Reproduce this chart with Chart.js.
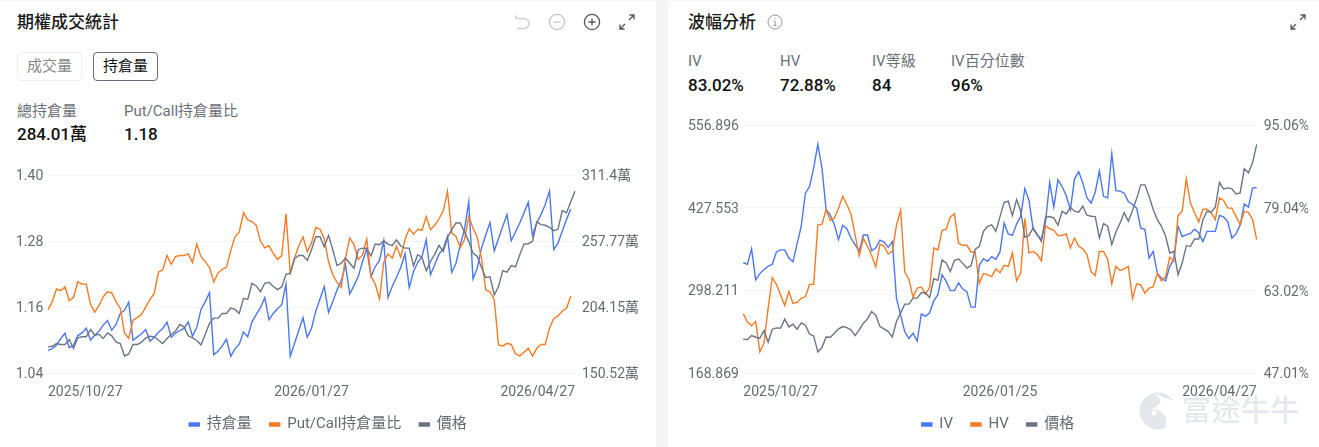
<!DOCTYPE html>
<html lang="zh-Hant">
<head>
<meta charset="utf-8">
<title>期權成交統計</title>
<script src="https://cdn.jsdelivr.net/npm/chart.js@4"></script>
<style>
  html, body { margin: 0; padding: 0; width: 1319px; height: 447px; overflow: hidden; background: #f5f5f6; }
  body { font-family: Roboto, "Noto Sans CJK TC", sans-serif; color: #222; position: relative; }
  .panel { position: absolute; top: 1px; height: 446px; background: #fff; }
  .abs { position: absolute; white-space: nowrap; }
  .title { font-size: 17px; font-weight: 500; line-height: 24px; color: #1a1a1a; }
  .btn { box-sizing: border-box; width: 65px; height: 29px; border-radius: 4px; font-size: 15px; line-height: 27px; text-align: center; }
  .btn.off { border: 1px solid #eeeeee; color: #888; }
  .btn.on { border: 1px solid #636c80; color: #111; }
  .label { font-size: 15px; line-height: 20px; color: #6b6f78; }
  .value { font-size: 17px; font-weight: 500; line-height: 22px; color: #111; }
  .chart-box { position: absolute; }
  svg { position: absolute; }
</style>
</head>
<body>
<div class="panel" style="left:0;width:656px"></div>
<div class="panel" style="left:668px;width:651px"></div>

<div class="abs title" style="left:17px;top:10px">期權成交統計</div>
<div class="abs btn off" style="left:17px;top:52px">成交量</div>
<div class="abs btn on" style="left:93px;top:52px">持倉量</div>
<div class="abs label" style="left:17px;top:101px">總持倉量</div>
<div class="abs value" style="left:17px;top:123px">284.01萬</div>
<div class="abs label" style="left:124px;top:101px">Put/Call持倉量比</div>
<div class="abs value" style="left:124px;top:123px">1.18</div>

<svg style="left:513px;top:13px" width="18" height="18" fill="none" stroke="#cfcfcf" stroke-width="1.4"><path d="M3 2.5v3h8a5 5 0 0 1 0 10H4"/></svg>
<svg style="left:548px;top:13px" width="18" height="18" fill="none" stroke="#c4c4c4" stroke-width="1.3"><circle cx="9" cy="9" r="7.6"/><path d="M5.5 9h7"/></svg>
<svg style="left:583px;top:13px" width="18" height="18" fill="none" stroke="#555" stroke-width="1.3"><circle cx="9" cy="9" r="7.6"/><path d="M5.5 9h7M9 5.5v7"/></svg>
<svg style="left:619px;top:14px" width="16" height="16" fill="none" stroke="#555" stroke-width="1.3"><path d="M1 15L6 10M1 10.5V15h4.5M15 1L10 6M15 5.5V1h-4.5"/></svg>

<div class="abs title" style="left:688px;top:10px">波幅分析</div>
<svg style="left:767px;top:14px" width="16" height="16" fill="none" stroke="#999" stroke-width="1"><circle cx="8" cy="8" r="7"/><path d="M8 7v4.5M6.5 11.5h3M7 7h1M8 4v1.2"/></svg>
<svg style="left:1290px;top:14px" width="16" height="16" fill="none" stroke="#555" stroke-width="1.3"><path d="M1 15L6 10M1 10.5V15h4.5M15 1L10 6M15 5.5V1h-4.5"/></svg>
<div class="abs label" style="left:688px;top:51px">IV</div>
<div class="abs value" style="left:688px;top:74px">83.02%</div>
<div class="abs label" style="left:780px;top:51px">HV</div>
<div class="abs value" style="left:780px;top:74px">72.88%</div>
<div class="abs label" style="left:872px;top:51px">IV等級</div>
<div class="abs value" style="left:872px;top:74px">84</div>
<div class="abs label" style="left:951px;top:51px">IV百分位數</div>
<div class="abs value" style="left:951px;top:74px">96%</div>

<div class="chart-box" style="left:16px;top:160px;width:624px;height:282px"><canvas id="oiChart"></canvas></div>
<div class="chart-box" style="left:688px;top:110px;width:620px;height:332px"><canvas id="volChart"></canvas></div>

<svg style="left:1139px;top:392px" width="38" height="38"><circle cx="19" cy="19" r="18.5" fill="#e3e7eb"/><path d="M14 1C26 8 22 14 12 17C24 18 30 24 26 37L37 30L38 10Z" fill="#fff"/><circle cx="15" cy="21" r="2.6" fill="#fff"/></svg>
<div class="abs" style="left:1182px;top:392px;font-size:29px;line-height:38px;font-weight:500;color:#e5e9ed;letter-spacing:0.5px">富途牛牛</div>

<script>
// left chart
const oiLabels = ['2025/10/27', '2026/01/27', '2026/04/27'];
const volLabels = ['2025/10/27', '2026/01/25', '2026/04/27'];
const labelIndex = [0, 62, 124];
const pointCount = 125;

const ratioTicks = [1.04, 1.16, 1.28, 1.40];
const oiTicks = [150.52, 204.15, 257.77, 311.4];
const oiTickText = ['150.52萬', '204.15萬', '257.77萬', '311.4萬'];
const strikeTicks = [168.869, 298.211, 427.553, 556.896];
const pctTicks = [47.01, 63.02, 79.04, 95.06];

const oiValues = [169.0,170.4,173.1,178.6,182.9,171.2,173.1,181.0,183.2,187.0,177.2,181.3,184.6,189.5,193.3,185.4,190.0,199.0,201.5,208.3,177.2,179.7,182.4,185.9,176.4,179.7,183.8,186.8,191.9,179.7,182.9,185.1,186.8,192.2,180.5,187.6,202.3,208.6,215.9,165.5,168.2,172.6,178.0,164.1,170.4,174.0,183.8,180.0,192.2,198.2,203.7,211.9,193.9,199.0,202.9,206.1,223.0,164.1,174.5,185.1,195.5,179.7,186.8,200.9,210.8,220.9,199.9,208.6,218.1,225.5,238.6,214.9,221.7,229.0,241.3,251.7,229.0,237.2,242.1,258.2,212.1,220.9,228.5,236.4,247.6,220.0,233.1,240.5,245.4,259.0,230.4,238.6,247.3,251.7,261.8,232.6,239.9,254.9,267.2,289.9,227.1,235.9,252.2,263.1,272.9,250.0,259.9,269.9,279.5,258.2,265.3,272.7,280.9,289.6,262.6,272.7,279.5,287.7,298.6,250.9,256.3,265.9,275.4,284.0];
const ratioValues = [1.155,1.170,1.193,1.190,1.197,1.172,1.178,1.206,1.202,1.202,1.165,1.151,1.163,1.179,1.188,1.186,1.170,1.158,1.113,1.103,1.136,1.141,1.147,1.160,1.174,1.185,1.224,1.228,1.254,1.238,1.252,1.254,1.254,1.257,1.241,1.275,1.252,1.243,1.232,1.206,1.222,1.229,1.233,1.263,1.288,1.297,1.332,1.319,1.316,1.309,1.280,1.268,1.272,1.258,1.247,1.254,1.330,1.222,1.249,1.272,1.288,1.261,1.277,1.305,1.302,1.285,1.243,1.219,1.205,1.196,1.250,1.286,1.274,1.247,1.255,1.284,1.216,1.202,1.175,1.242,1.257,1.249,1.271,1.251,1.283,1.303,1.293,1.302,1.300,1.325,1.301,1.309,1.321,1.335,1.371,1.295,1.289,1.268,1.283,1.325,1.304,1.287,1.249,1.191,1.188,1.173,1.091,1.089,1.094,1.092,1.075,1.071,1.078,1.085,1.071,1.085,1.092,1.092,1.122,1.139,1.144,1.153,1.158,1.180];
const oiPriceValues = [171.8,172.3,174.5,173.7,173.7,177.8,170.4,179.1,180.0,180.0,185.9,181.3,182.1,178.6,183.2,180.8,175.9,174.5,164.4,166.0,173.7,173.7,175.6,179.1,180.5,180.0,177.2,174.5,178.6,181.9,184.6,190.0,188.1,180.8,179.1,177.0,173.4,182.1,190.9,195.2,195.2,199.0,199.0,203.4,202.3,199.0,211.3,210.5,223.6,221.4,216.8,223.6,224.4,220.9,218.4,220.6,230.9,231.8,243.5,246.2,246.2,242.1,250.9,261.5,261.5,253.3,262.6,250.9,238.0,239.9,244.0,239.9,235.9,250.9,252.2,251.7,245.9,255.5,254.9,258.2,255.5,254.4,258.8,253.9,252.2,252.2,237.8,246.8,244.6,233.7,241.3,247.3,254.4,249.5,260.9,267.2,272.7,272.7,265.3,257.7,248.1,245.4,236.4,228.2,228.8,214.0,220.9,233.9,232.6,238.0,236.9,246.8,255.5,255.8,257.7,273.5,271.3,270.8,269.1,266.4,267.5,282.8,280.9,289.9,298.6];

// right chart
const ivValues = [68.4,68.1,71.1,65.1,66.3,67.1,67.7,68.1,70.5,70.9,70.9,69.3,68.6,72.1,75.5,81.9,83.2,86.8,91.4,86.8,78.7,77.7,75.8,72.9,75.7,75.0,73.2,71.9,70.6,73.8,73.8,70.7,71.3,72.8,72.4,71.4,72.5,61.5,58.3,55.0,53.7,54.7,53.2,58.5,58.0,58.7,61.0,62.2,66.1,64.8,63.0,63.0,64.5,63.3,62.8,59.8,59.8,67.9,69.2,68.7,69.6,69.1,70.5,76.1,74.0,73.7,75.9,77.4,82.8,80.5,75.0,73.8,72.9,76.4,84.0,79.2,84.5,83.2,81.4,78.7,84.7,86.1,83.9,81.0,80.0,82.1,86.2,81.3,81.0,89.6,82.4,82.3,81.9,80.3,79.7,79.0,75.1,74.9,69.3,70.6,66.4,65.4,64.9,67.7,69.1,75.5,73.5,73.8,74.1,74.9,74.2,72.5,74.5,74.5,74.5,77.6,77.3,76.4,73.2,74.0,75.7,79.8,79.2,82.9,83.02];
const hvValues = [58.5,56.9,56.2,57.0,51.1,52.8,59.6,65.5,64.2,62.2,60.1,62.8,60.5,60.7,61.5,61.8,64.2,64.2,75.7,75.9,78.7,76.6,77.1,79.0,81.3,79.7,77.9,73.8,69.8,73.1,71.6,69.8,67.6,72.0,71.6,70.1,70.6,75.7,78.6,66.6,65.2,61.7,63.5,63.7,62.3,63.6,71.3,70.9,74.7,74.9,77.3,77.9,72.2,71.8,71.8,70.5,70.5,64.4,66.3,66.1,65.7,67.2,66.5,67.9,67.7,70.3,64.9,66.4,77.0,70.3,70.6,70.0,68.8,75.6,75.0,74.7,73.7,73.7,74.0,71.3,73.2,71.6,71.1,70.0,66.7,65.9,70.6,70.6,69.1,64.3,67.7,66.9,67.2,67.7,61.5,64.3,64.1,62.5,63.5,63.7,66.3,64.9,65.7,69.5,68.7,77.5,78.4,84.7,80.0,78.1,76.3,78.8,78.8,78.1,76.8,81.0,80.5,79.0,79.0,77.4,75.8,78.4,78.2,76.8,72.88];
const volPriceValues = [221.8,221.2,227.5,224.9,223.3,235.4,217.0,237.5,239.6,239.0,253.2,241.1,245.3,237.5,247.4,243.8,229.6,227.0,201.9,208.7,225.4,224.9,231.2,238.0,241.7,240.1,236.4,227.5,236.4,246.9,253.7,265.2,259.5,241.7,238.0,233.8,225.4,249.5,263.1,276.8,276.8,286.2,286.2,294.6,294.6,286.7,316.6,314.0,345.9,341.2,328.1,345.4,347.5,340.7,333.3,337.0,362.7,367.4,390.9,398.8,400.9,390.9,414.0,436.5,438.1,415.5,440.7,422.4,381.5,384.6,396.2,385.7,375.2,412.9,414.0,411.9,400.4,422.4,418.2,428.6,422.4,420.8,430.2,416.1,414.5,414.0,380.4,403.0,398.8,370.0,389.9,404.0,420.2,406.6,423.4,442.2,463.7,463.7,445.9,425.0,409.2,398.8,383.1,356.9,359.5,322.9,341.2,368.4,367.4,378.9,378.9,409.2,422.4,420.8,428.6,467.4,457.4,459.0,457.4,449.6,451.2,488.9,482.6,498.3,527.1];

const BLUE = '#4a78f5';
const ORANGE = '#fb7a24';
const GREY = '#6b7487';
const TEXT = '#666a72';
const GRID = '#f2f3f5';
const FONT = 'Roboto, "Noto Sans CJK TC", sans-serif';

function makeCategories(tickText) {
  const cats = [];
  for (let i = 0; i < pointCount; i++) {
    const pos = labelIndex.indexOf(i);
    cats.push(pos >= 0 ? tickText[pos] : '');
  }
  return cats;
}

function lineSet(label, values, color, yAxisID, order) {
  return { label, data: values, borderColor: color, backgroundColor: color, borderWidth: 1.4,
    pointRadius: 0, tension: 0, yAxisID, order };
}

function fixedAxis(side, tickValues, width, showGrid, format) {
  const axis = {
    type: 'linear', position: side,
    min: tickValues[0], max: tickValues[tickValues.length - 1],
    border: { display: false },
    grid: { display: showGrid, color: GRID, drawTicks: false, lineWidth: 1 },
    ticks: { color: TEXT, font: { size: 14, family: FONT }, padding: 7, labelOffset: 1.5, crossAlign: side === 'left' ? 'far' : 'near', callback: format },
    afterBuildTicks: (scale) => { scale.ticks = tickValues.map(v => ({ value: v })); },
    afterFit: (scale) => { scale.width = width; },
  };
  return axis;
}

function drawChart(id, categories, datasets, yLeft, yRight, topPad) {
  new Chart(document.getElementById(id), {
    type: 'line',
    data: { labels: categories, datasets },
    options: {
      responsive: true, maintainAspectRatio: false, animation: false,
      layout: { padding: { top: topPad } },
      plugins: {
        legend: {
          position: 'bottom',
          labels: { color: TEXT, boxWidth: 10, boxHeight: 3, padding: 18, font: { size: 15, family: FONT },
            sort: (a, b) => a.datasetIndex - b.datasetIndex },
        },
        tooltip: { enabled: false },
      },
      scales: {
        x: {
          border: { display: false }, grid: { display: false, drawTicks: false },
          ticks: { color: TEXT, font: { size: 14, family: FONT }, padding: 11, align: 'inner', autoSkip: false, maxRotation: 0 },
          afterFit: (scale) => { scale.height = 26; },
        },
        yLeft, yRight,
      },
    },
  });
}

drawChart('oiChart', makeCategories(oiLabels), [
  lineSet('持倉量', oiValues, BLUE, 'yRight', 2),
  lineSet('Put/Call持倉量比', ratioValues, ORANGE, 'yLeft', 1),
  lineSet('價格', oiPriceValues, GREY, 'yRight', 0),
], fixedAxis('left', ratioTicks, 32, true, v => v.toFixed(2)),
   fixedAxis('right', oiTicks, 65, false, (v, i) => oiTickText[i]), 14.5);

drawChart('volChart', makeCategories(volLabels), [
  lineSet('IV', ivValues, BLUE, 'yRight', 2),
  lineSet('HV', hvValues, ORANGE, 'yRight', 1),
  lineSet('價格', volPriceValues, GREY, 'yLeft', 0),
], fixedAxis('left', strikeTicks, 55.3, true, v => v.toFixed(3)),
   fixedAxis('right', pctTicks, 51.3, false, v => v.toFixed(2) + '%'), 14.3);
</script>
</body>
</html>
